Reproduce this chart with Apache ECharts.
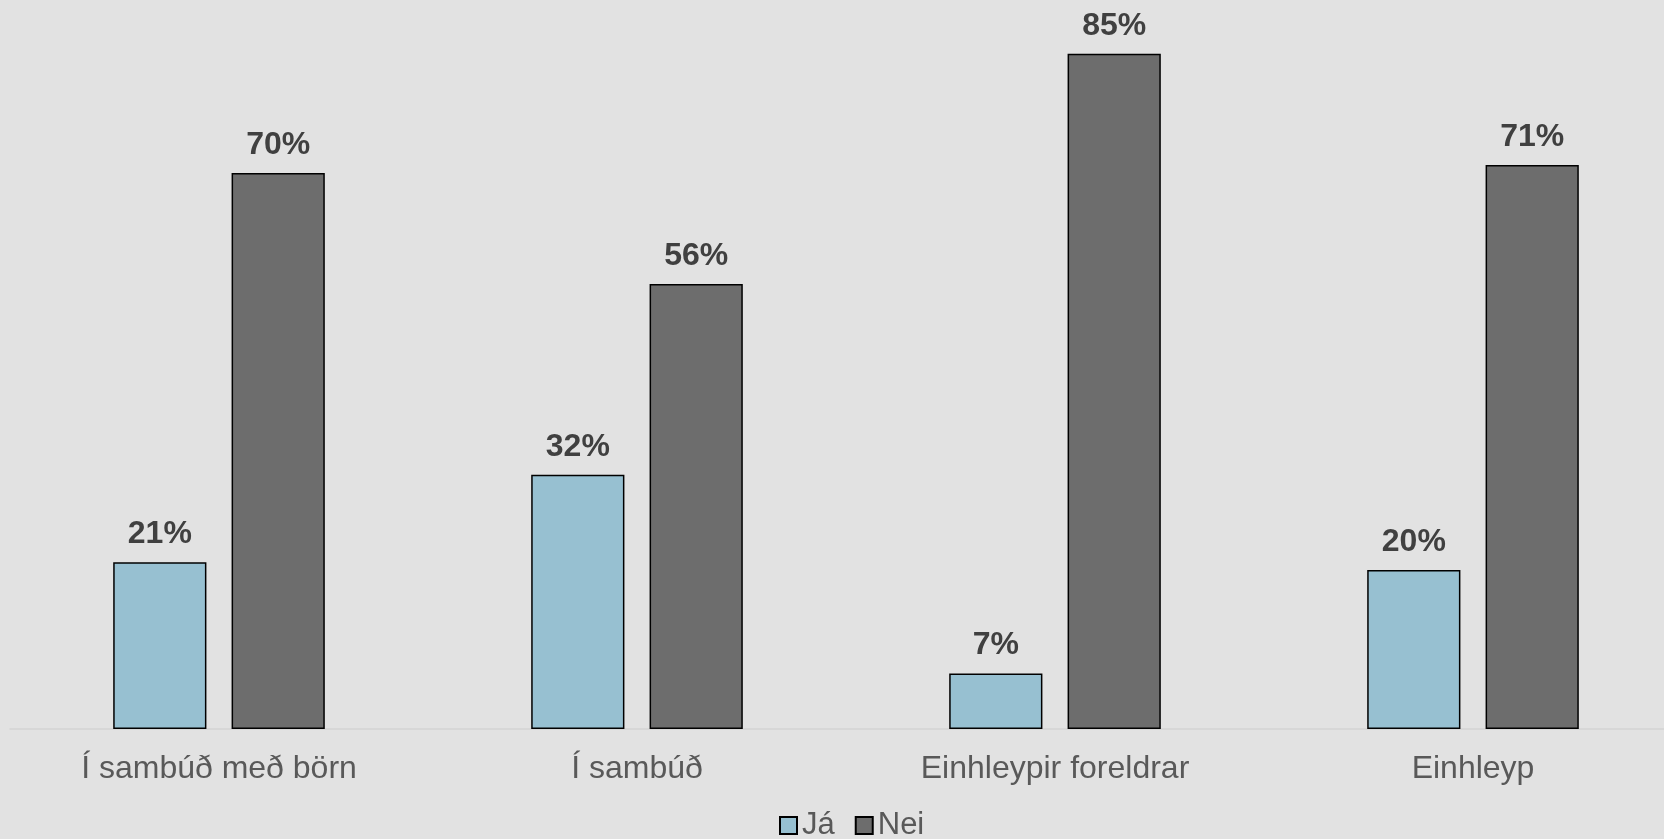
<!DOCTYPE html>
<html>
<head>
<meta charset="utf-8">
<title>Já / Nei</title>
<style>
  html, body { margin: 0; padding: 0; background: #e2e2e2; }
  #chart { width: 1664px; height: 839px; }
</style>
</head>
<body>
<div id="chart"></div>
<script src="https://cdn.jsdelivr.net/npm/echarts@6/dist/echarts.min.js"></script>
<script>
var categories = ['Í sambúð með börn', 'Í sambúð', 'Einhleypir foreldrar', 'Einhleyp'];
var jaValues = [21, 32, 7, 20];
var neiValues = [70, 56, 85, 71];

var fontName = '"Liberation Sans", Arial, sans-serif';

var chart = echarts.init(document.getElementById('chart'));

function labelOpt() {
  return {
    show: true,
    position: 'top',
    distance: 12,
    formatter: '{c}%',
    color: '#404040',
    fontSize: 32,
    fontWeight: 'bold',
    fontFamily: fontName
  };
}

chart.setOption({
  backgroundColor: '#e2e2e2',
  animation: false,
  grid: { left: 10, width: 1672, top: 14, bottom: 110, outerBoundsMode: 'none', containLabel: false },
  legend: {
    left: 774,
    top: 805,
    icon: 'rect',
    itemWidth: 17,
    itemHeight: 17,
    itemGap: 20,
    textStyle: { color: '#595959', fontSize: 31, fontFamily: fontName },
    data: ['Já', 'Nei']
  },
  xAxis: {
    type: 'category',
    data: categories,
    axisLine: { lineStyle: { color: '#d4d4d4', width: 1.5 } },
    axisTick: { show: false },
    axisLabel: { color: '#595959', fontSize: 32, fontFamily: fontName, margin: 24 }
  },
  yAxis: {
    type: 'value',
    min: 0,
    max: 90,
    show: false,
    splitLine: { show: false }
  },
  series: [
    {
      name: 'Já',
      type: 'bar',
      data: jaValues,
      barWidth: '22.3%',
      barGap: '27%',
      itemStyle: { color: '#97c0d1', borderColor: '#000', borderWidth: 1.5 },
      label: labelOpt()
    },
    {
      name: 'Nei',
      type: 'bar',
      data: neiValues,
      barWidth: '22.3%',
      itemStyle: { color: '#6d6d6d', borderColor: '#000', borderWidth: 1.5 },
      label: labelOpt()
    }
  ]
});
</script>
</body>
</html>
